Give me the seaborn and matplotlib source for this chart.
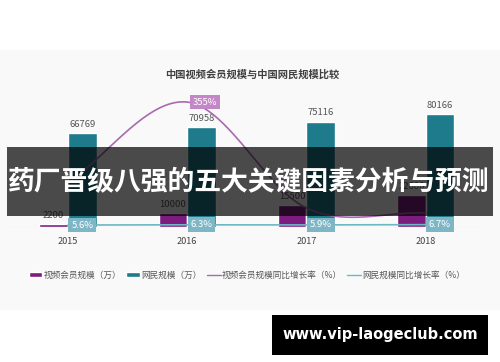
import numpy as np
import pandas as pd
import matplotlib
matplotlib.use("Agg")
import matplotlib.pyplot as plt
import seaborn as sns
from matplotlib.patches import Patch, Rectangle
from matplotlib.lines import Line2D

sns.set_theme(style="white")
plt.rcParams['font.family'] = ['Noto Sans CJK SC', 'DejaVu Sans']

# ---- data ----
years = ["2015", "2016", "2017", "2018"]
video_members = [2200, 10000, 15500, 22600]          # 视频会员规模（万）
netizens = [66769, 70958, 75116, 80166]              # 网民规模（万）
video_growth = [126, 355, 54, 40]                    # 视频会员规模同比增长率（%）
netizen_growth = [5.6, 6.3, 5.9, 6.7]                # 网民规模同比增长率（%）
series_names = ["视频会员规模（万）", "网民规模（万）",
                "视频会员规模同比增长率（%）", "网民规模同比增长率（%）"]
title = "中国视频会员规模与中国网民规模比较"
banner = "药厂晋级八强的五大关键因素分析与预测"
site = "www.vip-laogeclub.com"

c_purple = "#7b1c7e"
c_teal = "#1e7b8b"
c_pline = "#a96aae"
c_tline = "#6cb8c4"

df = pd.DataFrame({
    "year": years * 2,
    "series": [series_names[0]] * 4 + [series_names[1]] * 4,
    "value": video_members + netizens,
})

fig = plt.figure(figsize=(5, 3.62), dpi=100)
fig.patch.set_facecolor("white")
fig.patches.append(Rectangle((0, (362 - 310) / 362), 1, 260 / 362,
                             transform=fig.transFigure, fc="#f9f9f9", ec="none", zorder=-5))

ax = fig.add_axes([0.0166, 0.3729, 0.954, 0.3646])
ax.set_facecolor("none")
sns.barplot(data=df, x="year", y="value", hue="series",
            hue_order=series_names[:2], palette=[c_purple, c_teal],
            width=0.48, ax=ax, legend=False, saturation=1, zorder=3)
ax.set_xlim(-0.5, 3.5)
ax.set_ylim(0, 94000)
ax.axhline(0, color="#dcdcdc", lw=0.8, zorder=2)
for s in ax.spines.values():
    s.set_visible(False)
ax.set_yticks([])
ax.set_xlabel("")
ax.set_ylabel("")
ax.tick_params(axis="x", length=0, pad=7, labelsize=6.6, labelcolor="#444444")

for i, v in enumerate(video_members):
    ax.annotate(str(v), (i - 0.12, v), xytext=(0, 3), textcoords="offset points",
                ha="center", va="bottom", fontsize=6.8, color="#555555", zorder=5)
for i, v in enumerate(netizens):
    ax.annotate(str(v), (i + 0.12, v), xytext=(0, 3), textcoords="offset points",
                ha="center", va="bottom", fontsize=6.8, color="#555555", zorder=5)

ax2 = ax.twinx()
ax2.set_ylim(0, 375)
ax2.set_yticks([])
for s in ax2.spines.values():
    s.set_visible(False)

# smooth (Catmull-Rom / Hermite) rendering through the data points
def smooth(xs, ys, n=40):
    xs = np.asarray(xs, float); ys = np.asarray(ys, float)
    m = np.zeros_like(ys)
    m[0] = ys[1] - ys[0]
    m[-1] = ys[-1] - ys[-2]
    m[1:-1] = (ys[2:] - ys[:-2]) / 2
    ox, oy = [], []
    for k in range(len(xs) - 1):
        t = np.linspace(0, 1, n)
        h00 = 2 * t**3 - 3 * t**2 + 1
        h10 = t**3 - 2 * t**2 + t
        h01 = -2 * t**3 + 3 * t**2
        h11 = t**3 - t**2
        oy.append(h00 * ys[k] + h10 * m[k] + h01 * ys[k + 1] + h11 * m[k + 1])
        ox.append(xs[k] + t * (xs[k + 1] - xs[k]))
    return np.concatenate(ox), np.concatenate(oy)

xpos = np.arange(len(years))
sx, sy = smooth(xpos, video_growth)
ax2.plot(sx, sy, color=c_pline, lw=1.2, zorder=4)
sns.lineplot(x=xpos, y=netizen_growth, ax=ax2, color=c_tline, lw=1.2, zorder=4)

ax2.text(1 + 0.15, video_growth[1], f"{video_growth[1]}%", ha="center", va="center",
         fontsize=6.8, color="white", zorder=6,
         bbox=dict(boxstyle="square,pad=0.3", fc="#c386c6", ec="none"))
for i, v in enumerate(netizen_growth):
    ax2.text(i + 0.12, v, f"{v}%", ha="center", va="center", fontsize=6.8,
             color="white", zorder=6,
             bbox=dict(boxstyle="square,pad=0.3", fc="#7fb6c6", ec="none"))

fig.text(252 / 500, (362 - 75) / 362, title, ha="center", va="center",
         fontsize=7.4, fontweight="bold", color="#404040")

handles = [Patch(facecolor=c_purple), Patch(facecolor=c_teal),
           Line2D([], [], color=c_pline, lw=1), Line2D([], [], color=c_tline, lw=1)]
fig.legend(handles, series_names, loc="center", bbox_to_anchor=(0.494, (362 - 275) / 362),
           ncol=4, frameon=False, fontsize=6.2, handlelength=1.6, handleheight=0.6,
           handletextpad=0.15, columnspacing=0.6, labelcolor="#555555")

# overlay banner
fig.patches.append(Rectangle((7 / 500, (362 - 216) / 362), 486 / 500, 69 / 362,
                             transform=fig.transFigure, fc="black", alpha=0.7,
                             ec="none", zorder=10))
fig.text(0.497, (362 - 182) / 362, banner, ha="center", va="center",
         fontsize=19.3, fontweight="bold", color="white", zorder=11)

fig.patches.append(Rectangle((272 / 500, (362 - 355) / 362), 216 / 500, 40 / 362,
                             transform=fig.transFigure, fc="black", ec="none", zorder=10))
fig.text(380 / 500, (362 - 335) / 362, site, ha="center", va="center",
         fontsize=10.5, fontweight="bold", color="white", family="DejaVu Sans", zorder=11)

fig.savefig("out.png", dpi=100)
